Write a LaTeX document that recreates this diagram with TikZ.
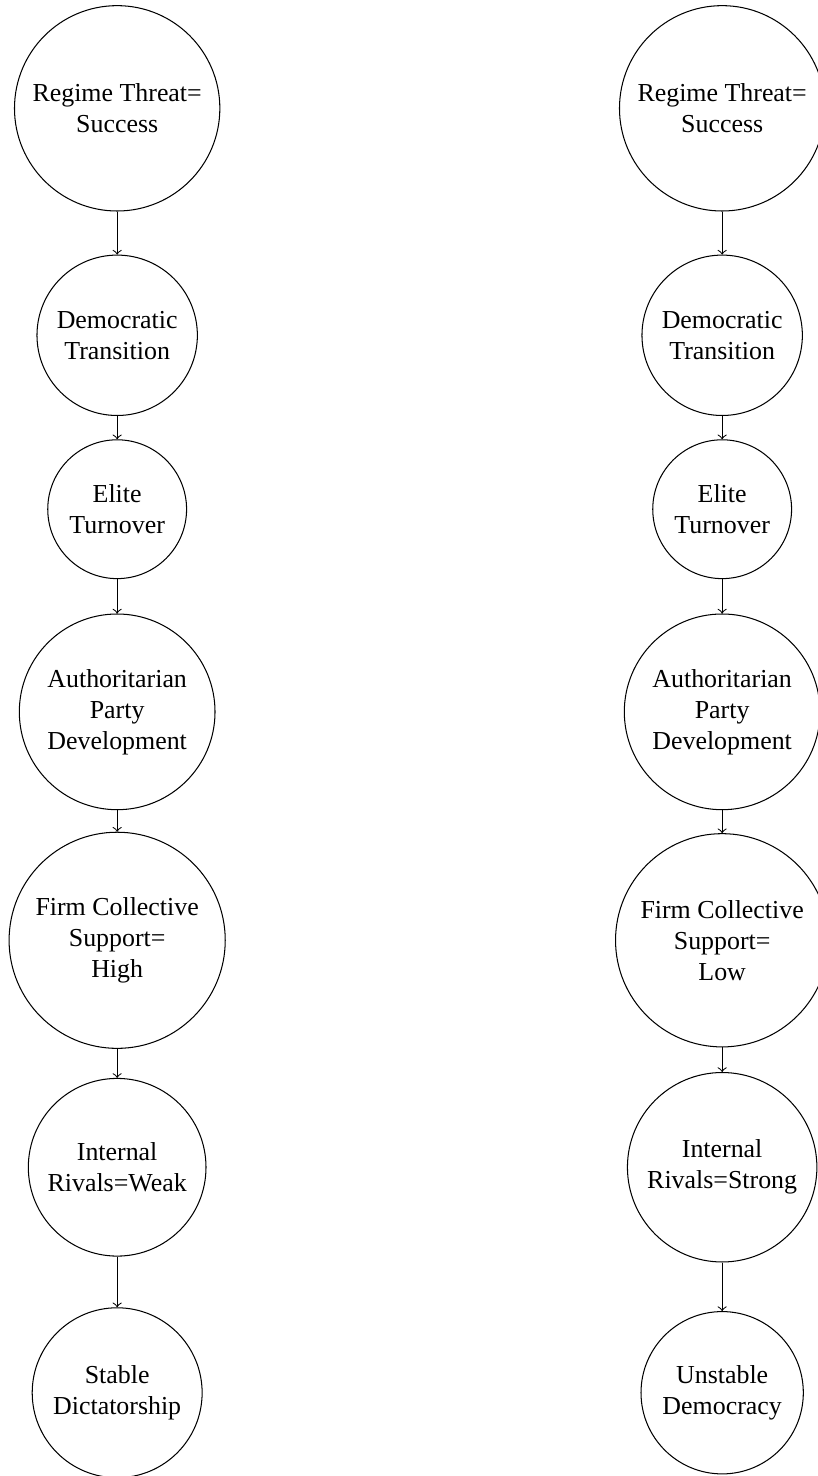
\documentclass[tikz,border=0pt]{standalone}
\usepackage{fontspec}
\setmainfont{Liberation Serif}
\usepackage{tikz}

\begin{document}
\begin{tikzpicture}
  \tikzstyle{state}=[circle,draw,align=center,inner sep=4.5pt]
  \tikzstyle{link}=[draw,->]
  \useasboundingbox (0,0) rectangle (11.10,-20.03);
  % left chain
  \node [state] (threatL)  at (1.59,-1.47)  {Regime Threat=\\Success};
  \node [state] (transL)   at (1.59,-4.55)  {Democratic\\Transition};
  \node [state] (eliteL)   at (1.59,-6.91)  {Elite\\Turnover};
  \node [state] (partyL)   at (1.59,-9.66)  {Authoritarian\\Party\\Development};
  \node [state] (supportL) at (1.59,-12.76) {Firm Collective\\Support=\\High};
  \node [state] (rivalsL)  at (1.59,-15.84) {Internal\\Rivals=Weak};
  \node [state] (stableL)  at (1.59,-18.90) {Stable\\Dictatorship};
  % right chain
  \node [state] (threatR)   at (9.80,-1.47)  {Regime Threat=\\Success};
  \node [state] (transR)    at (9.80,-4.55)  {Democratic\\Transition};
  \node [state] (eliteR)    at (9.80,-6.91)  {Elite\\Turnover};
  \node [state] (partyR)    at (9.80,-9.66)  {Authoritarian\\Party\\Development};
  \node [state] (supportR)  at (9.80,-12.76) {Firm Collective\\Support=\\Low};
  \node [state] (rivalsR)   at (9.80,-15.84) {Internal\\Rivals=Strong};
  \node [state] (unstableR) at (9.80,-18.90) {Unstable\\Democracy};
  \path [link] (threatL) -- (transL);
  \path [link] (transL) -- (eliteL);
  \path [link] (eliteL) -- (partyL);
  \path [link] (partyL) -- (supportL);
  \path [link] (supportL) -- (rivalsL);
  \path [link] (rivalsL) -- (stableL);
  \path [link] (threatR) -- (transR);
  \path [link] (transR) -- (eliteR);
  \path [link] (eliteR) -- (partyR);
  \path [link] (partyR) -- (supportR);
  \path [link] (supportR) -- (rivalsR);
  \path [link] (rivalsR) -- (unstableR);
\end{tikzpicture}
\end{document}
